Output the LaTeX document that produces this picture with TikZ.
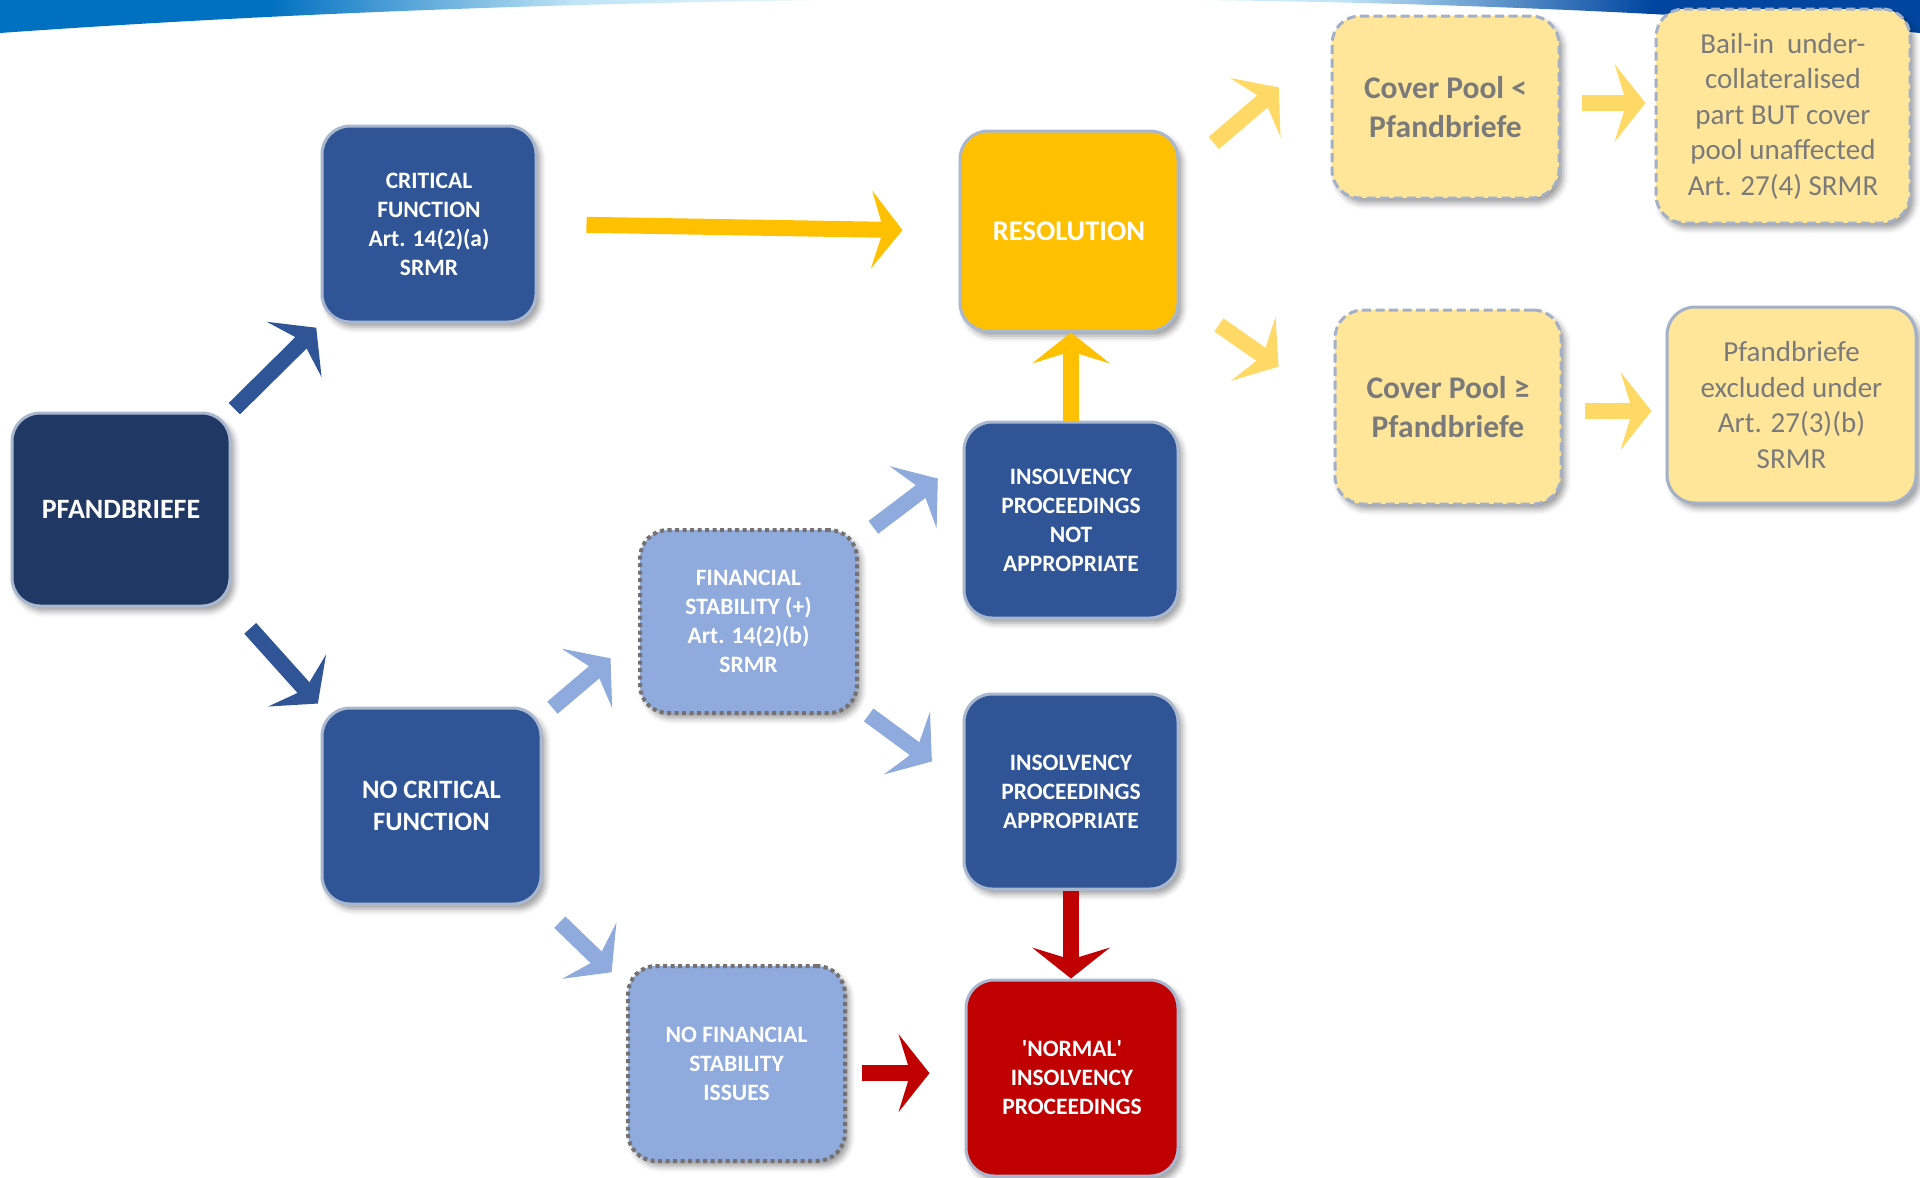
\documentclass[tikz,border=0pt]{standalone}
\usepackage{fontspec}
\setmainfont{Carlito}
\usetikzlibrary{arrows.meta,shadows.blur}
\definecolor{navy}{HTML}{203864}
\definecolor{midblue}{HTML}{2F5597}
\definecolor{lightblue}{HTML}{8FAADC}
\definecolor{gold}{HTML}{FFC000}
\definecolor{darkred}{HTML}{C00000}
\definecolor{pale}{HTML}{FFE699}
\definecolor{palearrow}{HTML}{FFD966}
\definecolor{rim}{HTML}{A9B7CF}
\definecolor{dashrim}{HTML}{A3B0C8}
\definecolor{dotrim}{HTML}{767171}
\definecolor{greytext}{HTML}{7A7A7A}
\definecolor{bannerl}{HTML}{0070C0}
\definecolor{bannerm}{HTML}{BFE4F6}
\definecolor{bannerr}{HTML}{0046A0}
\pgfdeclarehorizontalshading{banner}{100bp}{color(0bp)=(bannerl); color(32bp)=(bannerl); color(40bp)=(bannerm); color(50bp)=(white); color(60bp)=(bannerm); color(68bp)=(bannerr); color(100bp)=(bannerr)}

\begin{document}
\begin{tikzpicture}[x=1pt,y=-1pt]
    \tikzstyle{every node}+=[inner sep=0pt]
    \tikzstyle{box}=[rectangle, rounded corners=28pt, align=center, text=white, font=\bfseries\fontsize{23.5}{29}\selectfont, blur shadow={shadow xshift=4pt, shadow yshift=-5pt, shadow blur radius=6pt, shadow opacity=40}]
    \tikzstyle{solidbox}=[box, draw=rim, line width=3pt]
    \tikzstyle{dotbox}=[box, fill=lightblue, draw=dotrim, line width=4pt, dash pattern=on 4pt off 3.5pt]
    \tikzstyle{palebox}=[box, fill=pale, text=greytext, draw=dashrim, line width=3pt, dash pattern=on 9pt off 4.5pt, font=\fontsize{29}{35.5}\selectfont]
    \tikzstyle{bigarrow}=[line width=16pt, -{Stealth[length=31pt, width=78pt, inset=12pt, line width=0pt]}]
    \useasboundingbox (0,0) rectangle (1920,1178);
    \shade [shading=banner] (0,-6) -- (0,33) .. controls (600,-10) and (1400,-15) .. (1920,33) -- (1920,-6) -- cycle;
    \node [solidbox, fill=navy, minimum width=218pt, minimum height=193pt, font=\bfseries\fontsize{28}{34}\selectfont] (pfand) at (121,509.5) {PFANDBRIEFE};
    \node [solidbox, fill=midblue, minimum width=214pt, minimum height=196pt] (crit) at (429,224) {CRITICAL\\FUNCTION\\Art. 14(2)(a)\\SRMR};
    \node [solidbox, fill=midblue, minimum width=219pt, minimum height=196pt, font=\bfseries\fontsize{26.5}{32}\selectfont] (nocrit) at (431.5,806) {NO CRITICAL\\FUNCTION};
    \node [dotbox, minimum width=217pt, minimum height=183pt] (finstab) at (748.5,621.5) {FINANCIAL\\STABILITY (+)\\Art. 14(2)(b)\\SRMR};
    \node [dotbox, minimum width=217pt, minimum height=195pt] (nofin) at (736.5,1063.5) {NO FINANCIAL\\STABILITY\\ISSUES};
    \node [solidbox, fill=gold, minimum width=218pt, minimum height=200pt, font=\bfseries\fontsize{28.5}{34}\selectfont] (res) at (1069,231) {RESOLUTION};
    \node [solidbox, fill=midblue, minimum width=214pt, minimum height=196pt] (notapp) at (1071,520) {INSOLVENCY\\PROCEEDINGS\\NOT\\APPROPRIATE};
    \node [solidbox, fill=midblue, minimum width=214pt, minimum height=195pt] (app) at (1071,791.5) {INSOLVENCY\\PROCEEDINGS\\APPROPRIATE};
    \node [solidbox, fill=darkred, minimum width=212pt, minimum height=196pt] (normal) at (1072,1078) {\textquotesingle NORMAL\textquotesingle\\INSOLVENCY\\PROCEEDINGS};
    \node [palebox, minimum width=227pt, minimum height=182pt, font=\bfseries\fontsize{31.5}{38.5}\selectfont] (cpl) at (1445.5,107) {Cover Pool <\\Pfandbriefe};
    \node [palebox, minimum width=254pt, minimum height=214pt] (bail) at (1783,116) {Bail-in\ \ under-\\collateralised\\part BUT cover\\pool unaffected\\Art. 27(4) SRMR};
    \node [palebox, minimum width=226pt, minimum height=194pt, font=\bfseries\fontsize{31.5}{38.5}\selectfont] (cpg) at (1448,407) {Cover Pool ≥\\Pfandbriefe};
    \node [palebox, solid, minimum width=249pt, minimum height=196pt] (excl) at (1791.5,405) {Pfandbriefe\\excluded under\\Art. 27(3)(b)\\SRMR};
    \draw [bigarrow, color=midblue, shorten <=4pt, shorten >=6pt] (pfand.north east) -- (crit.south west);
    \draw [bigarrow, color=midblue, shorten <=28pt, shorten >=4pt] (pfand.south east) -- (nocrit.north west);
    \draw [bigarrow, color=gold, shorten <=49pt, shorten >=56pt] (crit.east) -- (res.west);
    \draw [bigarrow, color=lightblue, shorten <=13pt, shorten >=36pt] (nocrit.39) -- (finstab.187);
    \draw [bigarrow, color=lightblue, shorten <=24pt, shorten >=20pt] (nocrit.south east) -- (nofin.145);
    \draw [bigarrow, color=lightblue, shorten <=18pt, shorten >=31pt] (finstab.37) -- (notapp.151);
    \draw [bigarrow, color=lightblue, shorten <=12pt, shorten >=38pt] (finstab.-38) -- (app.176);
    \draw [bigarrow, color=gold] (notapp.north) -- (notapp.north |- res.south);
    \draw [bigarrow, color=darkred] (app.south) -- (app.south |- normal.north);
    \draw [bigarrow, color=darkred, shorten <=15pt, shorten >=35pt] (nofin.-5) -- (nofin.-5 -| normal.west);
    \draw [bigarrow, color=palearrow, shorten <=45pt, shorten >=68pt] (res.28) -- (cpl.151);
    \draw [bigarrow, color=palearrow, shorten <=48pt, shorten >=67pt] (res.-31) -- (cpg.179);
    \draw [bigarrow, color=palearrow, shorten <=21pt, shorten >=9pt] (cpl.2) -- (cpl.2 -| bail.west);
    \draw [bigarrow, color=palearrow, shorten <=22pt, shorten >=14pt] (cpg.-2) -- (cpg.-2 -| excl.west);
\end{tikzpicture}
\end{document}
